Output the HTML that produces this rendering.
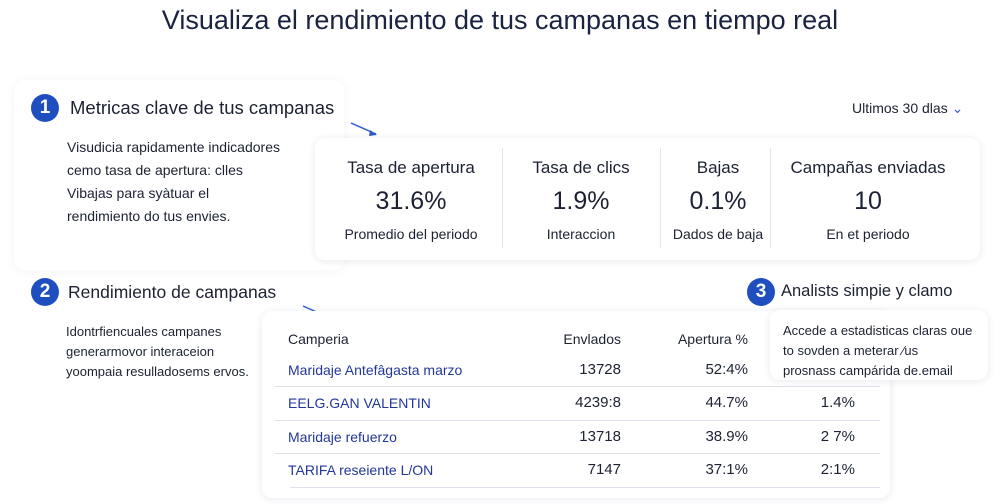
<!DOCTYPE html>
<html><head><meta charset="utf-8"><style>
body{margin:0;width:1000px;height:504px;background:#fff;position:relative;overflow:hidden;font-family:"Liberation Sans",sans-serif;color:#1c2233}
.a{position:absolute;white-space:nowrap}
.card{position:absolute;background:#fff;border-radius:10px;box-shadow:0 1px 8px rgba(30,40,80,.10)}
.c{position:absolute;width:28px;height:28px;border-radius:50%;background:#1f4fbf;color:#fff;font-weight:bold;font-size:19px;text-align:center;line-height:28px}
.m{position:absolute;text-align:center}
.r{position:absolute;text-align:right;width:120px}
.blue{color:#23379a}
.hr{position:absolute;height:1px;background:#dde2ea}
</style></head><body>
<div class="a" style="left:0;width:1000px;text-align:center;top:5px;font-size:27px;color:#1a2340">Visualiza el rendimiento de tus campanas en tiempo real</div>

<div class="card" style="left:14px;top:80px;width:330px;height:190px;box-shadow:0 1px 10px rgba(30,40,80,.05)"></div>
<div class="c" style="left:31px;top:94px">1</div>
<div class="a" style="left:70px;top:97px;font-size:18.5px">Metricas clave de tus campanas</div>
<div class="a" style="left:67px;top:136px;font-size:14px;line-height:23px">Visudicia rapidamente indicadores<br>cemo tasa de apertura: clles<br>Vibajas para syàtuar el<br>rendimiento do tus envies.</div>
<div class="a" style="left:852px;top:100px;font-size:14px">Ultimos 30 dlas <span style="color:#3a5bc0">⌄</span></div>
<svg class="a" style="left:348px;top:120px" width="34" height="20"><line x1="3" y1="3" x2="28" y2="14" stroke="#2f5bd0" stroke-width="1.5"/><path d="M22 10 L29 15 L21 16Z" fill="#2f5bd0"/></svg>

<div class="card" style="left:315px;top:138px;width:665px;height:122px"></div>
<div style="position:absolute;left:502px;top:148px;width:1px;height:100px;background:#e3e6ec"></div>
<div style="position:absolute;left:660px;top:148px;width:1px;height:100px;background:#e3e6ec"></div>
<div style="position:absolute;left:770px;top:148px;width:1px;height:100px;background:#e3e6ec"></div>
<div class="m" style="left:320px;width:182px;top:158px;font-size:17px">Tasa de apertura</div>
<div class="m" style="left:320px;width:182px;top:187px;font-size:25px">31.6%</div>
<div class="m" style="left:320px;width:182px;top:226px;font-size:14px">Promedio del periodo</div>
<div class="m" style="left:502px;width:158px;top:158px;font-size:17px">Tasa de clics</div>
<div class="m" style="left:502px;width:158px;top:187px;font-size:25px">1.9%</div>
<div class="m" style="left:502px;width:158px;top:226px;font-size:14px">Interaccion</div>
<div class="m" style="left:660px;width:116px;top:158px;font-size:17px">Bajas</div>
<div class="m" style="left:660px;width:116px;top:187px;font-size:25px">0.1%</div>
<div class="m" style="left:660px;width:116px;top:226px;font-size:14px">Dados de baja</div>
<div class="m" style="left:770px;width:196px;top:158px;font-size:17px">Campañas enviadas</div>
<div class="m" style="left:770px;width:196px;top:187px;font-size:25px">10</div>
<div class="m" style="left:770px;width:196px;top:226px;font-size:14px">En et periodo</div>

<div class="c" style="left:31px;top:278px">2</div>
<div class="a" style="left:68px;top:282px;font-size:17.5px">Rendimiento de campanas</div>
<div class="a" style="left:66px;top:322px;font-size:13px;line-height:20px">Idontrfiencuales campanes<br>generarmovor interaceion<br>yoompaia resulladosems ervos.</div>
<svg class="a" style="left:300px;top:303px" width="34" height="20"><line x1="3" y1="3" x2="28" y2="14" stroke="#2f5bd0" stroke-width="1.5"/><path d="M22 10 L29 15 L21 16Z" fill="#2f5bd0"/></svg>

<div class="card" style="left:262px;top:311px;width:628px;height:187px"></div>
<div class="a" style="left:288px;top:331px;font-size:14px">Camperia</div>
<div class="r" style="left:501px;top:331px;font-size:14px">Envlados</div>
<div class="r" style="left:628px;top:331px;font-size:14px">Apertura %</div>
<div class="a blue" style="left:288px;top:362px;font-size:14px">Maridaje Antefâgasta marzo</div>
<div class="r" style="left:501px;top:361px;font-size:15px">13728</div>
<div class="r" style="left:628px;top:361px;font-size:15px">52:4%</div>
<div class="hr" style="left:275px;top:386px;width:605px"></div>
<div class="a blue" style="left:288px;top:395px;font-size:14px">EELG.GAN VALENTIN</div>
<div class="r" style="left:501px;top:394px;font-size:15px">4239:8</div>
<div class="r" style="left:628px;top:394px;font-size:15px">44.7%</div>
<div class="r" style="left:735px;top:394px;font-size:15px">1.4%</div>
<div class="hr" style="left:275px;top:420px;width:605px"></div>
<div class="a blue" style="left:288px;top:429px;font-size:14px">Maridaje refuerzo</div>
<div class="r" style="left:501px;top:428px;font-size:15px">13718</div>
<div class="r" style="left:628px;top:428px;font-size:15px">38.9%</div>
<div class="r" style="left:735px;top:428px;font-size:15px">2 7%</div>
<div class="hr" style="left:275px;top:453px;width:605px"></div>
<div class="a blue" style="left:288px;top:462px;font-size:14px">TARIFA reseiente L/ON</div>
<div class="r" style="left:501px;top:461px;font-size:15px">7147</div>
<div class="r" style="left:628px;top:461px;font-size:15px">37:1%</div>
<div class="r" style="left:735px;top:461px;font-size:15px">2:1%</div>
<div class="hr" style="left:290px;top:487px;width:590px"></div>

<div class="card" style="left:770px;top:310px;width:218px;height:70px"></div>
<div class="c" style="left:747px;top:278px">3</div>
<div class="a" style="left:781px;top:282px;font-size:16.5px">Analists simpie y clamo</div>
<div class="a" style="left:783px;top:321px;font-size:13px;line-height:20px">Accede a estadisticas claras oue<br>to sovden a meterar ⁄us<br>prosnass campárida de.email</div>
</body></html>
